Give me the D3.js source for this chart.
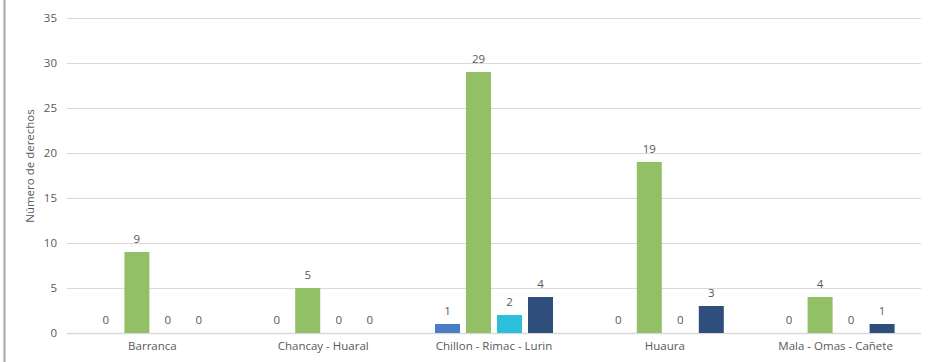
<!DOCTYPE html>
<html>
<head>
<meta charset="utf-8">
<script src="https://cdn.jsdelivr.net/npm/d3@7"></script>
<style>
	body { margin: 0; background: #fff; }
	#chart-area { width: 931px; height: 362px; }
	text { font-family: "Open Sans", Lato, sans-serif; fill: #595959; }
</style>
</head>
<body>
<div id="chart-area"></div>
<script>
const categories = ['Barranca', 'Chancay - Huaral', 'Chillon - Rimac - Lurin', 'Huaura', 'Mala - Omas - Cañete'];
const seriesNames = ['s1', 's2', 's3', 's4'];
const s1 = [0, 0, 1, 0, 0];
const s2 = [9, 5, 29, 19, 4];
const s3 = [0, 0, 2, 0, 0];
const s4 = [0, 0, 4, 3, 1];
const yTicks = [0, 5, 10, 15, 20, 25, 30, 35];
const colors = ['#4a7ec4', '#93bf67', '#2bbfdb', '#2f4e7b'];

window.addEventListener('DOMContentLoaded', () => {
	const margin = { top: 18, right: 10, bottom: 29, left: 67 };
	const width = 931 - margin.left - margin.right;
	const height = 362 - margin.top - margin.bottom;
	const font = '"Open Sans", Lato, sans-serif';

	const svg = d3.select('#chart-area')
		.append('svg')
		.attr('width', 931)
		.attr('height', 362);

	// left border line
	svg.append('line')
		.attr('x1', 4.5).attr('x2', 4.5)
		.attr('y1', 0).attr('y2', 362)
		.attr('stroke', '#a6a6a6')
		.attr('stroke-width', 2);

	const g = svg.append('g')
		.attr('transform', `translate(${margin.left}, ${margin.top})`);

	const x = d3.scaleBand()
		.domain(categories)
		.range([0, width])
		.paddingInner(0)
		.paddingOuter(0);

	const groupWidth = 118;
	const x1 = d3.scaleBand()
		.domain(seriesNames)
		.range([(x.bandwidth() - groupWidth) / 2, (x.bandwidth() + groupWidth) / 2])
		.paddingInner(6 / 31)
		.paddingOuter(0);

	const y = d3.scaleLinear()
		.domain([0, 35])
		.range([height, 0]);

	// gridlines
	g.append('g')
		.selectAll('line')
		.data(yTicks)
		.enter()
			.append('line')
			.attr('x1', 0)
			.attr('x2', width)
			.attr('y1', d => Math.round(y(d)) + 0.5)
			.attr('y2', d => Math.round(y(d)) + 0.5)
			.attr('stroke', '#d9d9d9')
			.attr('stroke-width', d => d === 0 ? 1.5 : 1);

	// Y axis
	const leftAxis = d3.axisLeft(y)
		.tickValues(yTicks)
		.tickSize(0)
		.tickPadding(10);
	const yAxis = g.append('g').call(leftAxis);
	yAxis.select('.domain').remove();
	yAxis.selectAll('text').attr('font-size', 11.5).style('font-family', font).attr('fill', '#595959');

	// X axis
	const bottomAxis = d3.axisBottom(x).tickSize(0).tickPadding(9);
	const xAxis = g.append('g')
		.attr('transform', `translate(0, ${height})`)
		.call(bottomAxis);
	xAxis.select('.domain').remove();
	xAxis.selectAll('text').attr('font-size', 11.5).style('font-family', font).attr('fill', '#595959');

	// Y title
	svg.append('text')
		.attr('transform', 'translate(34, 166) rotate(-90)')
		.attr('text-anchor', 'middle')
		.attr('font-size', 11.5)
		.text('Número de derechos');

	const series = [s1, s2, s3, s4];
	const rows = [];
	categories.forEach((c, i) => {
		series.forEach((s, j) => {
			rows.push({ cat: c, key: seriesNames[j], value: s[i], color: colors[j] });
		});
	});

	g.selectAll('rect.bar')
		.data(rows)
		.enter()
			.append('rect')
			.attr('class', 'bar')
			.attr('x', d => x(d.cat) + x1(d.key))
			.attr('y', d => y(d.value))
			.attr('width', x1.bandwidth())
			.attr('height', d => height - y(d.value))
			.attr('fill', d => d.color);

	g.selectAll('text.val')
		.data(rows)
		.enter()
			.append('text')
			.attr('class', 'val')
			.attr('x', d => x(d.cat) + x1(d.key) + x1.bandwidth() / 2)
			.attr('y', d => y(d.value) - 9)
			.attr('text-anchor', 'middle')
			.attr('font-size', 11.5)
			.text(d => d.value);
});
</script>
</body>
</html>
